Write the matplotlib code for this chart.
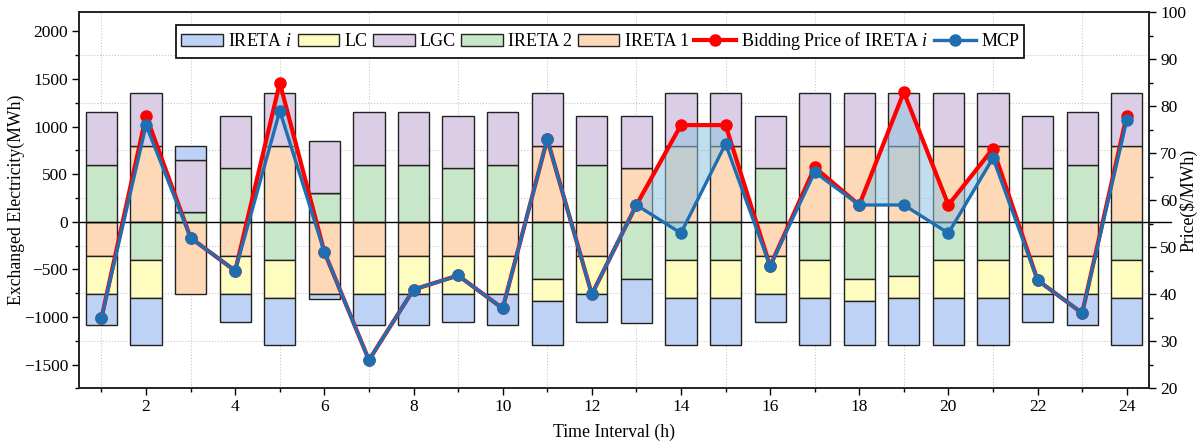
import numpy as np
import matplotlib
matplotlib.use("Agg")
import matplotlib.pyplot as plt
from matplotlib.ticker import MultipleLocator

plt.rcParams["font.family"] = "Liberation Serif"
plt.rcParams["mathtext.fontset"] = "custom"
plt.rcParams["mathtext.rm"] = "Liberation Serif"
plt.rcParams["mathtext.it"] = "Liberation Serif:italic"

hours = np.arange(1, 25)

# exchanged electricity per participant (MWh)
ireta1 = [-360, 800, -760, -360, 800, -760, -360, -360, -360, -360, 800, -360,
          560, 800, 800, -360, 800, 800, 800, 800, 800, -360, -360, 800]
ireta2 = [600, -400, 100, 560, -400, 300, 600, 600, 560, 600, -600, 600,
          -600, -400, -400, 560, -400, -600, -570, -400, -400, 560, 600, -400]
lc = [-400, -400, 0, -400, -400, 0, -400, -400, -400, -400, -230, -400,
      0, -400, -400, -400, -400, -230, -230, -400, -400, -400, -400, -400]
lgc = [550, 550, 550, 550, 550, 550, 550, 550, 550, 550, 550, 510,
       550, 550, 550, 550, 550, 550, 550, 550, 550, 550, 550, 550]
ireta_i = [-330, -500, 150, -290, -500, -50, -330, -330, -290, -330, -470, -290,
           -465, -500, -500, -290, -500, -470, -500, -500, -500, -290, -330, -500]

# prices ($/MWh)
bid_price = [35, 78, 52, 45, 85, 49, 26, 41, 44, 37, 73, 40,
             59, 76, 76, 46, 67, 59, 83, 59, 71, 43, 36, 78]
mcp = [35, 76, 52, 45, 79, 49, 26, 41, 44, 37, 73, 40,
       59, 53, 72, 46, 66, 59, 59, 53, 69, 43, 36, 77]

# stacking order from zero outwards
stack = [
    ("IRETA 1", ireta1, "#fdd9b8"),
    ("IRETA 2", ireta2, "#c8e6c8"),
    ("LC", lc, "#fffcbf"),
    ("LGC", lgc, "#dbcde6"),
    ("IRETA $i$", ireta_i, "#bed2f6"),
]
legend_order = ["IRETA $i$", "LC", "LGC", "IRETA 2", "IRETA 1"]

fig = plt.figure(figsize=(12, 4.45), dpi=100)
ax = fig.add_axes([0.066, 0.1274, 0.8915, 0.845])
ax2 = ax.twinx()

pos_base = np.zeros(24)
neg_base = np.zeros(24)
bars = {}
for name, vals, color in stack:
    v = np.array(vals, dtype=float)
    base = np.where(v >= 0, pos_base, neg_base)
    b = ax.bar(hours, v, width=0.7, bottom=base, color=color,
               edgecolor="#222222", linewidth=1.0, zorder=2)
    bars[name] = b
    pos_base += np.clip(v, 0, None)
    neg_base += np.clip(v, None, 0)

ax.plot([0.5, 25.0], [0, 0], color="black", lw=1.0, clip_on=False, zorder=3)

ax.set_xlim(0.5, 24.5)
ax.set_ylim(-1750, 2200)
ax.xaxis.set_major_locator(MultipleLocator(2))
ax.xaxis.set_minor_locator(MultipleLocator(1))
ax.yaxis.set_major_locator(MultipleLocator(500))
ax.yaxis.set_minor_locator(MultipleLocator(250))
ax.grid(which="minor", color="#c8c8c8", linestyle=":", linewidth=0.8, zorder=0)
ax.set_axisbelow(True)

ax2.set_ylim(20, 100)
ax2.yaxis.set_major_locator(MultipleLocator(10))
ax2.yaxis.set_minor_locator(MultipleLocator(5))

x = hours
bid = np.array(bid_price, dtype=float)
mc = np.array(mcp, dtype=float)
ax2.fill_between(x, bid, mc, where=bid >= mc, interpolate=True,
                 color="#8fc3e0", alpha=0.55, linewidth=0, zorder=2)
l_bid, = ax2.plot(x, bid, color="#ff0000", lw=3.0, marker="o", ms=8,
                  label="Bidding Price of IRETA $i$", zorder=3)
l_mcp, = ax2.plot(x, mc, color="#1f6fb0", lw=2.4, marker="o", ms=8,
                  label="MCP", zorder=4)

for a in (ax, ax2):
    for s in a.spines.values():
        s.set_linewidth(1.2)
        s.set_color("#222222")
    a.tick_params(which="major", direction="out", length=5, width=1.0,
                  labelsize=12.5, pad=3)
    a.tick_params(which="minor", direction="out", length=3, width=1.0)

ax.set_xlabel("Time Interval (h)", fontsize=12.8, labelpad=6)
ax.set_ylabel("Exchanged Electricity(MWh)", fontsize=12.8)
ax.yaxis.set_label_coords(-0.051, 0.5)
ax2.set_ylabel(r"Price(\$/MWh)", fontsize=12.8)
ax2.yaxis.set_label_coords(1.028, 0.5)

handles = [bars[n] for n in legend_order] + [l_bid, l_mcp]
labels = legend_order + ["Bidding Price of IRETA $i$", "MCP"]
leg = ax2.legend(handles, labels, loc="upper center", bbox_to_anchor=(0.487, 0.99),
                 ncol=7, fontsize=13, frameon=True, fancybox=False,
                 edgecolor="black", framealpha=1, handlelength=2.3,
                 handletextpad=0.3, columnspacing=0.3, borderpad=0.3)
leg.get_frame().set_linewidth(1.2)

fig.savefig("out.png", dpi=100)
